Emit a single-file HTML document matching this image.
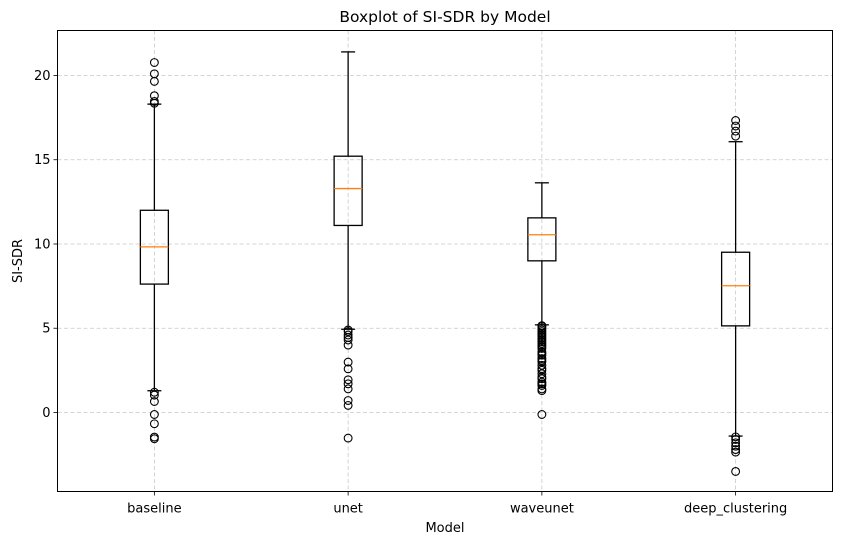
<!DOCTYPE html>
<html><head><meta charset="utf-8"><style>
body{margin:0;background:#fff;}
svg{display:block;font-family:"DejaVu Sans","Liberation Sans",sans-serif;}
</style></head><body>
<svg id="chart" width="842" height="545"></svg>
<script>
const categories=["baseline","unet","waveunet","deep_clustering"];
const q1s=[7.62,11.1,9.0,5.14];
const medians=[9.83,13.29,10.55,7.52];
const q3s=[12.0,15.21,11.55,9.51];
const whiskLo=[1.29,4.94,5.2,-1.4];
const whiskHi=[18.3,21.4,13.63,16.07];
const outliers=[
 [20.77,20.1,19.65,18.8,18.46,18.35,1.2,1.03,0.65,-0.12,-0.67,-1.46,-1.56],
 [4.9,4.8,4.6,4.45,4.3,4.0,2.99,2.59,1.94,1.7,1.4,0.71,0.42,-1.52],
 [5.15,5.1,5.0,4.9,4.8,4.7,4.6,4.5,4.4,4.3,4.2,4.1,4.0,3.9,3.8,3.6,3.5,3.4,3.2,3.1,3.0,2.8,2.6,2.5,2.3,2.1,2.0,1.8,1.7,1.6,1.4,1.3,-0.12],
 [17.33,17.0,16.7,16.4,-1.45,-1.6,-1.8,-2.0,-2.2,-2.35,-3.5]
];
const yTicks=[0,5,10,15,20];

const NS="http://www.w3.org/2000/svg";
const svg=document.getElementById('chart');
const L=57.5,R=832.5,T=30.5,B=491.5;
const yMin=-4.69,yMax=22.67;
function y(v){return B-(v-yMin)/(yMax-yMin)*(B-T);}
function x(i){return L+(i+0.5)*(R-L)/categories.length;}
function el(tag,attrs,parent){const e=document.createElementNS(NS,tag);for(const k in attrs)e.setAttribute(k,attrs[k]);(parent||svg).appendChild(e);return e;}

yTicks.forEach(t=>{
 const g=el('line',{x1:L,x2:R,y1:y(t),y2:y(t),stroke:'#c8c8c8','stroke-dasharray':'4,2.5','stroke-width':0.8});
 
 
 el('line',{x1:L-4,x2:L,y1:y(t),y2:y(t),stroke:'#000','stroke-width':0.8});
 const tx=el('text',{x:L-7,y:y(t)+4.5,'text-anchor':'end','font-size':13});
 tx.textContent=t;
 
 
});
categories.forEach((c,i)=>{
 const g=el('line',{x1:x(i),x2:x(i),y1:T,y2:B,stroke:'#c8c8c8','stroke-dasharray':'4,2.5','stroke-width':0.8});
 
 
 el('line',{x1:x(i),x2:x(i),y1:B,y2:B+4,stroke:'#000','stroke-width':0.8});
 const tx=el('text',{x:x(i),y:B+21,'text-anchor':'middle','font-size':13});
 tx.textContent=c;
 
 
});

const bw=28,cw=14;
categories.forEach((c,i)=>{
 const g=el('g',{});
 
 
 const cx=x(i);
 el('line',{x1:cx,x2:cx,y1:y(q3s[i]),y2:y(whiskHi[i]),stroke:'#000','stroke-width':1.3},g);
 el('line',{x1:cx,x2:cx,y1:y(q1s[i]),y2:y(whiskLo[i]),stroke:'#000','stroke-width':1.3},g);
 el('line',{x1:cx-cw/2,x2:cx+cw/2,y1:y(whiskHi[i]),y2:y(whiskHi[i]),stroke:'#000','stroke-width':1.3},g);
 el('line',{x1:cx-cw/2,x2:cx+cw/2,y1:y(whiskLo[i]),y2:y(whiskLo[i]),stroke:'#000','stroke-width':1.3},g);
 el('rect',{x:cx-bw/2,y:y(q3s[i]),width:bw,height:y(q1s[i])-y(q3s[i]),fill:'none',stroke:'#000','stroke-width':1.3},g);
 el('line',{x1:cx-bw/2,x2:cx+bw/2,y1:y(medians[i]),y2:y(medians[i]),stroke:'#ff7f0e','stroke-width':1.3},g);
 outliers[i].forEach(v=>{
  const o=el('circle',{cx:cx,cy:y(v),r:3.9,fill:'none',stroke:'#000','stroke-width':1.1},g);
  
  
 });
});

const fr=el('rect',{x:L,y:T,width:R-L,height:B-T,fill:'none',stroke:'#000','stroke-width':1});



const title=el('text',{x:(L+R)/2,y:22,'text-anchor':'middle','font-size':15.5});
title.textContent='Boxplot of SI-SDR by Model';


const xl=el('text',{x:(L+R)/2,y:532,'text-anchor':'middle','font-size':13});
xl.textContent='Model';


const yl=el('text',{x:22,y:(T+B)/2,'text-anchor':'middle','font-size':13,transform:'rotate(-90 22 '+((T+B)/2)+')'});
yl.textContent='SI-SDR';


</script>
</body></html>
